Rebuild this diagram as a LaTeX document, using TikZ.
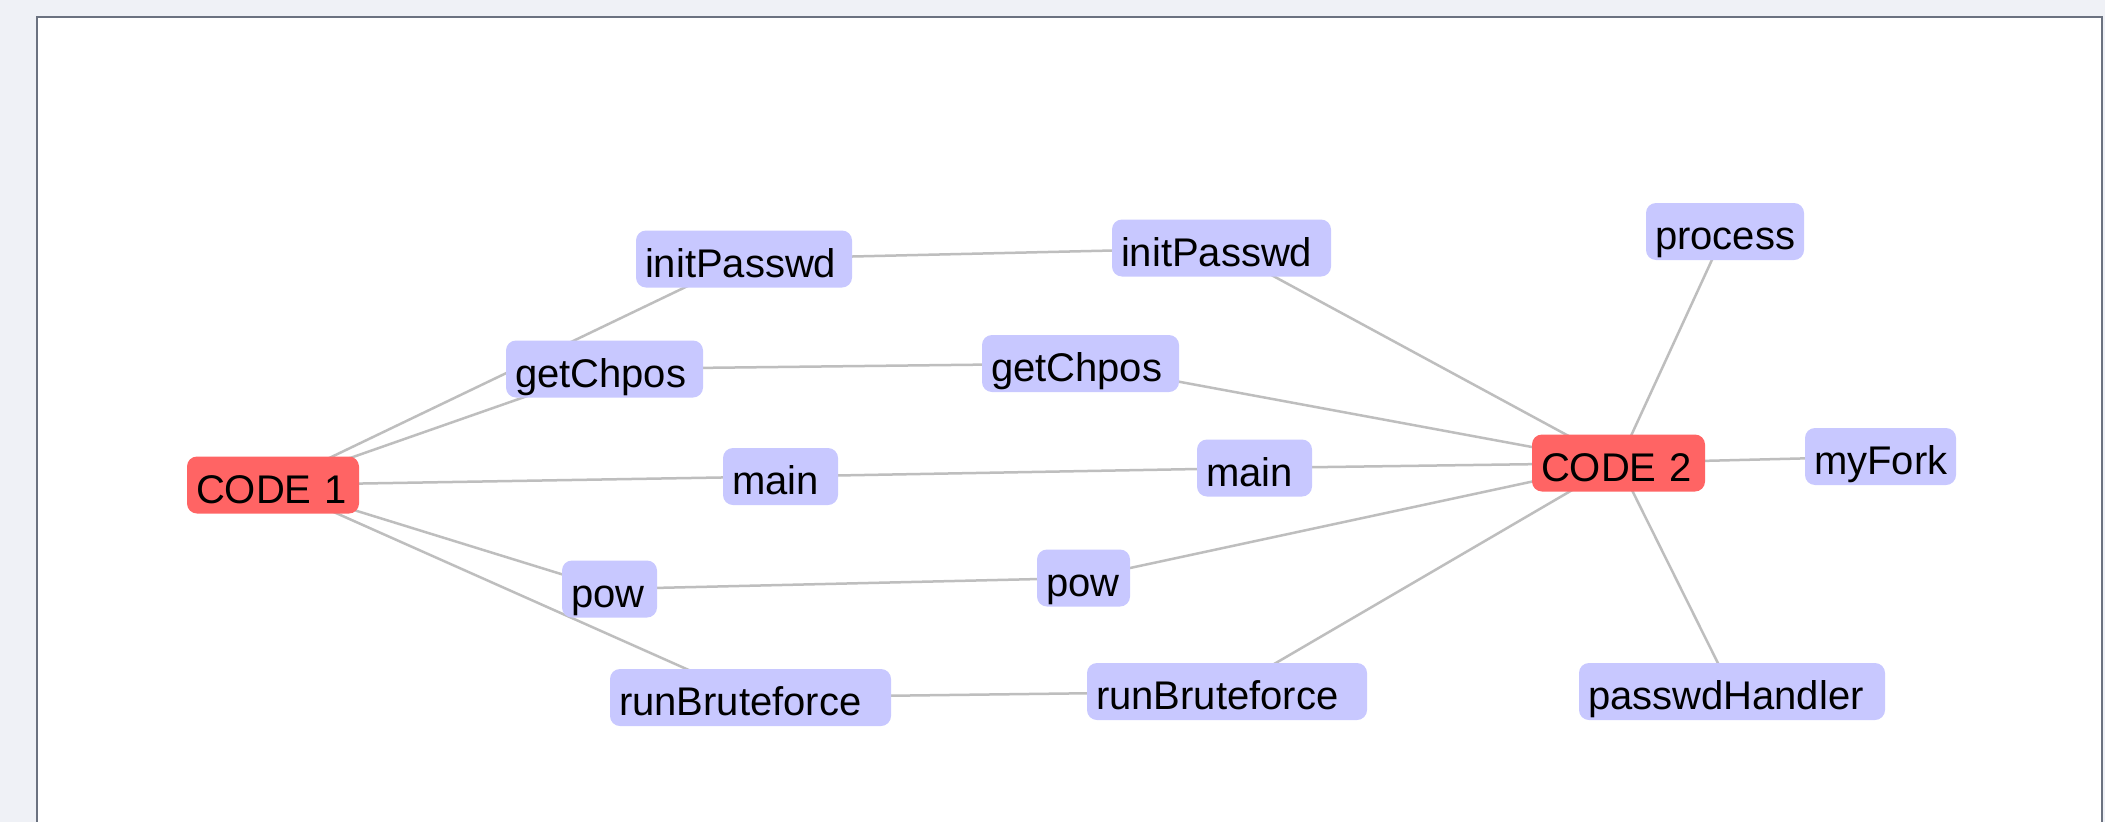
\documentclass[tikz,border=0pt]{standalone}
\usepackage{fontspec}
\setmainfont{Liberation Sans}
\definecolor{nodeblue}{HTML}{C8C8FF}
\definecolor{nodered}{HTML}{FF6464}
\definecolor{edgegray}{HTML}{BEBEBE}
\definecolor{outerbg}{HTML}{EFF1F6}
\definecolor{framecol}{HTML}{6B7280}
\pgfdeclarelayer{bglayer}
\pgfdeclarelayer{edgelayer}
\pgfsetlayers{bglayer,edgelayer,main}
\begin{document}
\begin{tikzpicture}[x=1pt,y=-1pt,
  fn/.style={rounded corners=10pt, fill=nodeblue, minimum height=57pt,
    inner xsep=9pt, inner ysep=0pt, text height=36pt, text depth=0pt,
    text width=#1, align=left, font=\fontsize{40pt}{48pt}\selectfont},
  hub/.style={fn=#1, fill=nodered},
  link/.style={draw=edgegray, line width=2.5pt}]
\useasboundingbox (0,0) rectangle (2105,822);
\begin{pgfonlayer}{bglayer}
\fill[outerbg] (0,0) rectangle (2105,822);
\fill[white] (37,17) rectangle (2102,822);
\draw[framecol, line width=2.5pt] (37,822) -- (37,17) -- (2102,17) -- (2102,822);
\end{pgfonlayer}
% code 1 side
\node[hub=154pt] (c1) at (273,485) {CODE 1};
\node[fn=179pt] (gcL) at (604.5,369) {getChpos};
\node[fn=198pt] (ipL) at (744,259) {initPasswd};
\node[fn=97pt] (mL) at (780.5,476.5) {main};
\node[fn=77pt] (pL) at (609.5,589) {pow};
\node[fn=263pt] (rbL) at (750.5,697.5) {runBruteforce};
% code 2 side
\node[fn=201pt] (ipR) at (1221.5,248) {initPasswd};
\node[fn=179pt] (gcR) at (1080.5,363.5) {getChpos};
\node[fn=97pt] (mR) at (1254.5,468) {main};
\node[fn=75pt] (pR) at (1083.5,578) {pow};
\node[fn=262pt] (rbR) at (1227,691.5) {runBruteforce};
\node[hub=155pt] (c2) at (1618.5,463) {CODE 2};
\node[fn=140pt] (proc) at (1725,231.5) {process};
\node[fn=133pt] (fork) at (1880.5,456.5) {myFork};
\node[fn=288pt] (ph) at (1732,691.5) {passwdHandler};
\begin{pgfonlayer}{edgelayer}
\draw[link] (c1.center) -- (ipL.center);
\draw[link] (c1.center) -- (gcL.center);
\draw[link] (c1.center) -- (mL.center);
\draw[link] (c1.center) -- (pL.center);
\draw[link] (c1.center) -- (rbL.center);
\draw[link] (ipL.center) -- (ipR.center);
\draw[link] (gcL.center) -- (gcR.center);
\draw[link] (mL.center) -- (mR.center);
\draw[link] (pL.center) -- (pR.center);
\draw[link] (rbL.center) -- (rbR.center);
\draw[link] (c2.center) -- (ipR.center);
\draw[link] (c2.center) -- (gcR.center);
\draw[link] (c2.center) -- (mR.center);
\draw[link] (c2.center) -- (pR.center);
\draw[link] (c2.center) -- (rbR.center);
\draw[link] (c2.center) -- (proc.center);
\draw[link] (c2.center) -- (fork.center);
\draw[link] (c2.center) -- (ph.center);
\end{pgfonlayer}
\end{tikzpicture}
\end{document}
